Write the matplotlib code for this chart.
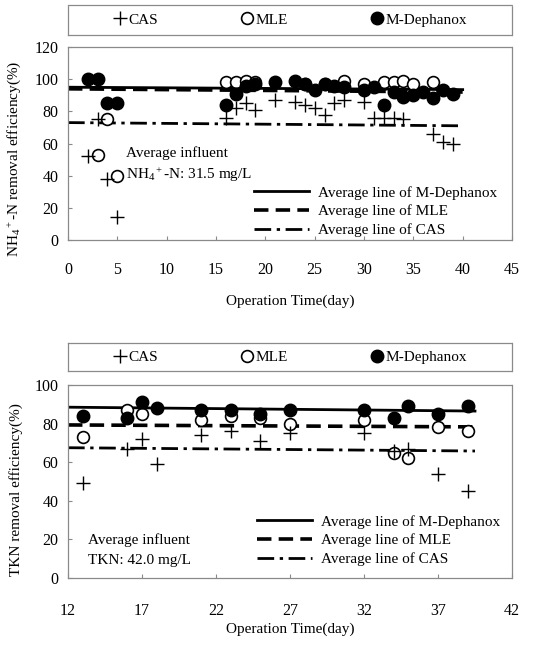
import matplotlib
matplotlib.use("Agg")
import matplotlib.pyplot as plt
from matplotlib.lines import Line2D

plt.rcParams['font.family'] = ['Liberation Serif', 'DejaVu Serif']
plt.rcParams['mathtext.fontset'] = 'custom'
plt.rcParams['mathtext.rm'] = 'Liberation Serif'
plt.rcParams['mathtext.it'] = 'Liberation Serif:italic'

# ---------------- data: NH4+-N ----------------
nh_cas_day = [2, 3, 4, 5, 16, 17, 18, 19, 21, 23, 24, 25, 26, 27, 28, 30, 31, 32, 33, 34, 37, 38, 39]
nh_cas_val = [52, 75, 38, 14, 76, 82, 85, 81, 87, 86, 84, 82, 78, 85, 87, 86, 76, 76, 76, 75, 66, 61, 60]
nh_mle_day = [3, 4, 5, 16, 17, 18, 19, 24, 26, 28, 30, 32, 33, 34, 35, 37]
nh_mle_val = [53, 75, 40, 98, 98, 99, 98, 97, 97, 99, 97, 98, 98, 99, 97, 98]
nh_dep_day = [2, 3, 4, 5, 16, 17, 18, 19, 21, 23, 24, 25, 26, 27, 28, 30, 31, 32, 33, 34, 35, 36, 37, 38, 39]
nh_dep_val = [100, 100, 85, 85, 84, 91, 96, 97, 98, 99, 97, 93, 97, 96, 95, 93, 95, 84, 92, 89, 90, 92, 88, 93, 91]
nh_avg_x = [0, 40]
nh_avg_dep = [95, 93.5]
nh_avg_mle = [94, 92]
nh_avg_cas = [73, 71]

# ---------------- data: TKN ----------------
tkn_cas_day = [13, 16, 17, 18, 21, 23, 25, 27, 32, 34, 35, 37, 39]
tkn_cas_val = [49, 67, 72, 59, 74, 76, 71, 75, 75, 66, 67, 54, 45]
tkn_mle_day = [13, 16, 17, 21, 23, 25, 27, 32, 34, 35, 37, 39]
tkn_mle_val = [73, 87, 85, 82, 84, 83, 80, 82, 65, 62, 78, 76]
tkn_dep_day = [13, 16, 17, 18, 21, 23, 25, 27, 32, 34, 35, 37, 39]
tkn_dep_val = [84, 83, 91, 88, 87, 87, 85, 87, 87, 83, 89, 85, 89]
tkn_avg_x = [12, 39.5]
tkn_avg_dep = [88.5, 86.5]
tkn_avg_mle = [79.3, 78.3]
tkn_avg_cas = [67.5, 65.8]

series_labels = ['CAS', 'MLE', 'M-Dephanox']
line_labels = ['Average line of M-Dephanox', 'Average line of MLE', 'Average line of CAS']

W, H = 557, 650
fig = plt.figure(figsize=(W / 100, H / 100), dpi=100)
FRAME = '#8a8a8a'
FS = 11


def fr(l, t, r, b):
    return [l / W, 1 - b / H, (r - l) / W, (b - t) / H]


DASHED = (0, (4, 2))
DASHDOT = (0, (6, 2, 1.2, 2))


def style_axes(ax):
    for s in ax.spines.values():
        s.set_linestyle((0, (1, 1)))
        s.set_color(FRAME)
        s.set_linewidth(0.9)


def series_handles():
    return [
        Line2D([], [], marker='+', ls='none', color='black', markersize=10, mew=1.0),
        Line2D([], [], marker='o', ls='none', mfc='white', mec='black', markersize=8.5, mew=1.2),
        Line2D([], [], marker='o', ls='none', color='black', markersize=9),
    ]


def make_legend_box(rect):
    ax = fig.add_axes(rect)
    ax.set_xticks([])
    ax.set_yticks([])
    style_axes(ax)
    ax.legend(series_handles(), series_labels, ncol=3, loc='center', frameon=False,
              fontsize=FS, columnspacing=5.4, handlelength=0.9, handletextpad=0.1,
              borderpad=0)


def draw_panel(ax, cas_d, cas_v, mle_d, mle_v, dep_d, dep_v, ax_x, a_dep, a_mle, a_cas):
    ax.plot(ax_x, a_dep, color='black', lw=2.0, ls='-', zorder=2)
    ax.plot(ax_x, a_mle, color='black', lw=2.6, ls=DASHED, zorder=2)
    ax.plot(ax_x, a_cas, color='black', lw=2.0, ls=DASHDOT, zorder=2)
    ax.plot(mle_d, mle_v, marker='o', ls='none', mfc='white', mec='black', markersize=8.5, mew=1.2, zorder=3)
    ax.plot(dep_d, dep_v, marker='o', ls='none', color='black', markersize=9, zorder=4)
    ax.plot(cas_d, cas_v, marker='+', ls='none', color='black', markersize=10, mew=1.0, zorder=5)
    style_axes(ax)
    ax.tick_params(direction='in', length=3, color=FRAME, labelsize=FS + 0.5, width=0.8)
    ax.tick_params(axis='y', pad=7)
    lh = [Line2D([], [], color='black', lw=2.0, ls='-'),
          Line2D([], [], color='black', lw=2.6, ls=DASHED),
          Line2D([], [], color='black', lw=2.0, ls=DASHDOT)]
    return lh


# ---------------- top panel ----------------
make_legend_box(fr(68, 5, 512, 35))
ax1 = fig.add_axes(fr(68, 47, 512, 240))
lh = draw_panel(ax1, nh_cas_day, nh_cas_val, nh_mle_day, nh_mle_val, nh_dep_day, nh_dep_val,
                nh_avg_x, nh_avg_dep, nh_avg_mle, nh_avg_cas)
ax1.tick_params(axis='x', pad=16)
ax1.set_xlim(0, 45)
ax1.set_ylim(0, 120)
ax1.set_xticks(range(0, 46, 5))
ax1.set_yticks(range(0, 121, 20))
ax1.set_xlabel('Operation Time(day)', fontsize=FS)
ax1.xaxis.set_label_coords(0.5, -0.285)
ax1.set_ylabel('NH$_4$$^+$-N removal efficiency(%)', fontsize=FS)
ax1.yaxis.set_label_coords(-0.102, 0.42)
ax1.text(0.13, 0.45, 'Average influent', transform=ax1.transAxes, fontsize=FS, va='center')
ax1.text(0.13, 0.335, 'NH$_4$$^+$-N: 31.5 mg/L', transform=ax1.transAxes, fontsize=FS, va='center')
ax1.legend(lh, line_labels, loc='upper left', bbox_to_anchor=(254 / W, 1 - 186 / H),
           bbox_transform=fig.transFigure, frameon=False, fontsize=FS, handlelength=3.6,
           handletextpad=0.6, labelspacing=0.32, borderpad=0, borderaxespad=0)

# ---------------- bottom panel ----------------
make_legend_box(fr(68, 343, 512, 371))
ax2 = fig.add_axes(fr(68, 385, 512, 578))
lh = draw_panel(ax2, tkn_cas_day, tkn_cas_val, tkn_mle_day, tkn_mle_val, tkn_dep_day, tkn_dep_val,
                tkn_avg_x, tkn_avg_dep, tkn_avg_mle, tkn_avg_cas)
ax2.tick_params(axis='x', pad=18)
ax2.set_xlim(12, 42)
ax2.set_ylim(0, 100)
ax2.set_xticks(range(12, 43, 5))
ax2.set_yticks(range(0, 101, 20))
ax2.set_xlabel('Operation Time(day)', fontsize=FS)
ax2.xaxis.set_label_coords(0.5, -0.23)
ax2.set_ylabel('TKN removal efficiency(%)', fontsize=FS)
ax2.yaxis.set_label_coords(-0.102, 0.46)
ax2.text(0.045, 0.195, 'Average influent', transform=ax2.transAxes, fontsize=FS, va='center')
ax2.text(0.045, 0.09, 'TKN: 42.0 mg/L', transform=ax2.transAxes, fontsize=FS, va='center')
ax2.legend(lh, line_labels, loc='upper left', bbox_to_anchor=(257 / W, 1 - 515 / H),
           bbox_transform=fig.transFigure, frameon=False, fontsize=FS, handlelength=3.6,
           handletextpad=0.6, labelspacing=0.32, borderpad=0, borderaxespad=0)

fig.savefig('out.png', dpi=100, facecolor='white')
